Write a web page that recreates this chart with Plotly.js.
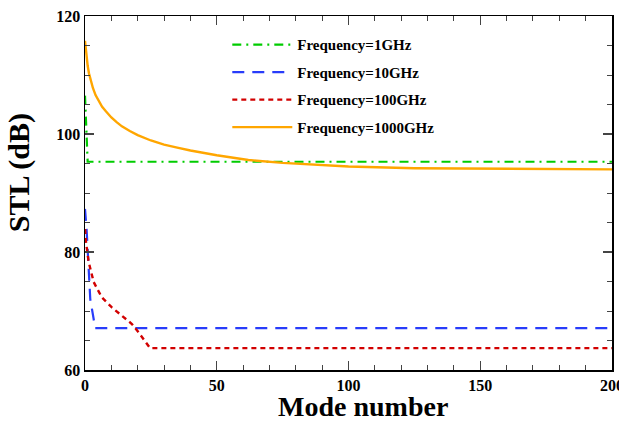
<!DOCTYPE html>
<html>
<head>
<meta charset="utf-8">
<script src="https://cdn.plot.ly/plotly-3.0.1.min.js"></script>
<style>html,body{margin:0;padding:0;background:#fff;}#chart{width:619px;height:422px;}</style>
</head>
<body>
<div id="chart"></div>
<script>
// Data
const seriesNames = ["Frequency=1GHz", "Frequency=10GHz", "Frequency=100GHz", "Frequency=1000GHz"];

const mode1GHz = [0, 1, 200];
const stl1GHz = [106.5, 95.3, 95.3];

const mode10GHz = [0, 0.6, 1.4, 2.0, 3.3, 3.8, 200];
const stl10GHz = [87.3, 83.9, 77.1, 72.0, 68.6, 67.1, 67.1];

const mode100GHz = [0, 0.4, 1.4, 3.3, 6.4, 10.2, 14, 17.8, 20.3, 22.2, 24.7, 200];
const stl100GHz = [83.9, 81.6, 78.3, 74.9, 72.3, 70.6, 69.2, 67.8, 66.4, 65.3, 63.7, 63.7];

const mode1000GHz = [0, 0.5, 1, 1.5, 2, 3, 4, 5, 6.5, 8, 10, 12, 14, 17, 20, 25, 30, 35, 40, 50, 62, 75, 90, 100, 125, 150, 175, 200];
const stl1000GHz = [115.8, 113.4, 111.6, 110.3, 109.3, 107.8, 106.6, 105.7, 104.6, 103.8, 102.8, 102.0, 101.3, 100.5, 99.8, 98.9, 98.2, 97.7, 97.2, 96.4, 95.6, 95.1, 94.7, 94.5, 94.2, 94.1, 94.0, 94.0];

const xTitle = "Mode number";
const yTitle = "STL (dB)";

const serif = "Liberation Serif, Times New Roman, serif";

const traces = [
  {x: mode1GHz, y: stl1GHz, name: seriesNames[0], mode: "lines", legendgroup: "a",
   line: {color: "rgb(0,204,0)", width: 2.2, dash: "9px,5px,2px,5px"}},
  {x: mode10GHz, y: stl10GHz, name: seriesNames[1], mode: "lines", legendgroup: "b",
   line: {color: "rgb(40,60,250)", width: 2.2, dash: "12px,8px"}},
  {x: mode100GHz, y: stl100GHz, name: seriesNames[2], mode: "lines", legendgroup: "c",
   line: {color: "rgb(210,0,0)", width: 2.4, dash: "5px,4px"}},
  {x: mode1000GHz, y: stl1000GHz, name: seriesNames[3], mode: "lines", legendgroup: "d",
   line: {color: "rgb(255,166,0)", width: 2.4}}
];

const axisCommon = {
  showgrid: false, zeroline: false, showline: true, linecolor: "#000", linewidth: 1.5,
  mirror: "allticks", ticks: "inside", ticklen: 9, tickwidth: 1.2, tickcolor: "#444",
  ticklabeloverflow: "allow",
  tickfont: {family: serif, size: 16, weight: "bold", color: "#000"}
};

const titleFont = {family: serif, size: 30, weight: "bold", color: "#000"};

const layout = {
  width: 619, height: 422,
  margin: {l: 85, r: 7, t: 16, b: 52},
  paper_bgcolor: "#fff", plot_bgcolor: "#fff",
  showlegend: true,
  legend: {x: 0.27, y: 0.965, xanchor: "left", yanchor: "top", bgcolor: "rgba(0,0,0,0)",
           itemwidth: 60,
           font: {family: serif, size: 15, weight: "bold", color: "#000"}, tracegroupgap: 5},
  xaxis: Object.assign({}, axisCommon, {
    range: [0, 200], dtick: 50, tick0: 0,
    minor: {dtick: 10, ticks: "inside", ticklen: 5, tickcolor: "#444", tickwidth: 1}
  }),
  yaxis: Object.assign({}, axisCommon, {
    range: [60, 120], dtick: 20, tick0: 60,
    minor: {dtick: 5, ticks: "inside", ticklen: 5, tickcolor: "#444", tickwidth: 1}
  }),
  annotations: [
    {text: xTitle, xref: "paper", yref: "paper", x: 0.5275, y: -0.1017, xanchor: "center", yanchor: "middle",
     showarrow: false, borderpad: 0, font: Object.assign({}, titleFont, {size: 28})},
    {text: yTitle, xref: "paper", yref: "paper", x: -0.125, y: 0.556, xanchor: "center", yanchor: "middle",
     textangle: -90, showarrow: false, font: titleFont}
  ]
};

Plotly.newPlot("chart", traces, layout, {displayModeBar: false, staticPlot: true});
</script>
</body>
</html>
